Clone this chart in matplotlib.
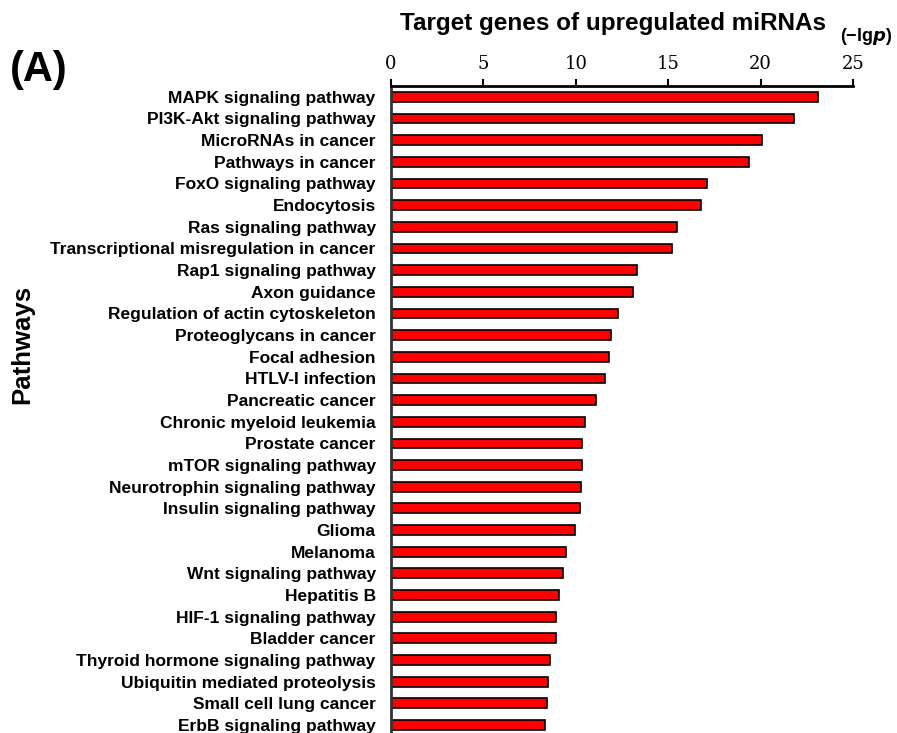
import numpy as np
import matplotlib.pyplot as plt

pathways = [
    "MAPK signaling pathway",
    "PI3K-Akt signaling pathway",
    "MicroRNAs in cancer",
    "Pathways in cancer",
    "FoxO signaling pathway",
    "Endocytosis",
    "Ras signaling pathway",
    "Transcriptional misregulation in cancer",
    "Rap1 signaling pathway",
    "Axon guidance",
    "Regulation of actin cytoskeleton",
    "Proteoglycans in cancer",
    "Focal adhesion",
    "HTLV-I infection",
    "Pancreatic cancer",
    "Chronic myeloid leukemia",
    "Prostate cancer",
    "mTOR signaling pathway",
    "Neurotrophin signaling pathway",
    "Insulin signaling pathway",
    "Glioma",
    "Melanoma",
    "Wnt signaling pathway",
    "Hepatitis B",
    "HIF-1 signaling pathway",
    "Bladder cancer",
    "Thyroid hormone signaling pathway",
    "Ubiquitin mediated proteolysis",
    "Small cell lung cancer",
    "ErbB signaling pathway",
]
neg_log_p = [23.1, 21.8, 20.1, 19.4, 17.1, 16.8, 15.5, 15.2, 13.3, 13.1,
             12.3, 11.9, 11.8, 11.6, 11.1, 10.5, 10.35, 10.35, 10.3, 10.25,
             9.95, 9.45, 9.3, 9.1, 8.93, 8.93, 8.6, 8.5, 8.43, 8.32]
x_ticks = [0, 5, 10, 15, 20, 25]

fig = plt.figure(figsize=(8.97, 7.33), dpi=100)
ax = fig.add_axes([0.4359, 0.0, 0.515, 0.8827])

y = np.arange(len(pathways))
ax.barh(y, neg_log_p, height=0.45, color="#ff0000", edgecolor="black", linewidth=1.2)

ax.set_xlim(0, 25)
ax.set_ylim(29.37, -0.5)
ax.xaxis.tick_top()
ax.set_xticks(x_ticks)
ax.set_xticklabels([str(t) for t in x_ticks], fontfamily="DejaVu Serif", fontsize=13)
ax.tick_params(axis="x", direction="out", length=5, width=1.5, pad=4)
ax.set_yticks(y)
ax.set_yticklabels(pathways, fontfamily="Liberation Sans", fontweight="bold", fontsize=12.5)
ax.tick_params(axis="y", length=0, pad=11)

for side in ["right", "bottom"]:
    ax.spines[side].set_visible(False)
ax.spines["top"].set_linewidth(2)
ax.spines["left"].set_linewidth(2)
ax.spines["left"].set_color("#333333")

fig.text(0.446, 0.968, "Target genes of upregulated miRNAs", fontfamily="Liberation Sans",
         fontweight="bold", fontsize=17.5, ha="left", va="center")
fig.text(0.937, 0.950, r"(−lg$\mathbfit{p}$)", fontfamily="Liberation Sans",
         fontweight="bold", fontsize=13, ha="left", va="center")
fig.text(0.011, 0.905, "(A)", fontfamily="Liberation Sans", fontweight="bold",
         fontsize=30, ha="left", va="center")
fig.text(0.025, 0.53, "Pathways", fontfamily="Liberation Sans", fontweight="bold",
         fontsize=18.5, rotation=90, ha="center", va="center")

fig.savefig("out.png", dpi=100)
